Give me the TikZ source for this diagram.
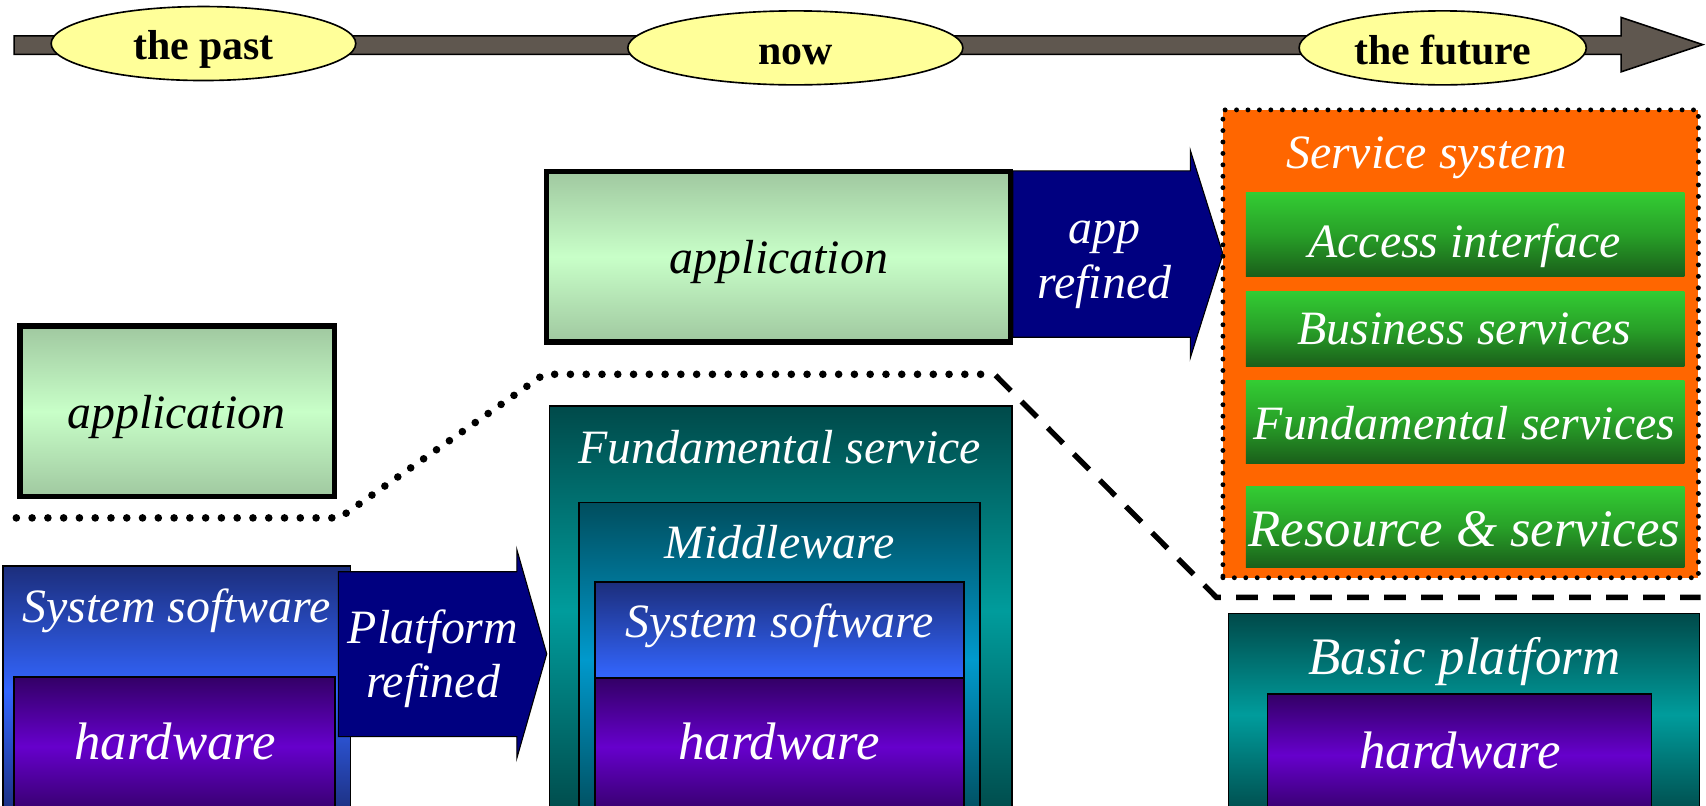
\documentclass[tikz,border=0pt]{standalone}
\usepackage{fontspec}
\setmainfont{Liberation Serif}
\usetikzlibrary{shapes.geometric}

\definecolor{timegray}{HTML}{5F574F}
\definecolor{erayellow}{HTML}{FFFF99}
\definecolor{appdark}{HTML}{A0C8A0}
\definecolor{applight}{HTML}{C8FFC8}
\definecolor{arrownavy}{HTML}{000080}
\definecolor{tealdark}{HTML}{004A4A}
\definecolor{tealmid}{HTML}{009C9C}
\definecolor{middark}{HTML}{004E5E}
\definecolor{midbright}{HTML}{0099CC}
\definecolor{sysdark}{HTML}{1C2E7C}
\definecolor{sysbright}{HTML}{3366FF}
\definecolor{hwdark}{HTML}{330066}
\definecolor{hwbright}{HTML}{6600CC}
\definecolor{svcorange}{HTML}{FF6600}
\definecolor{svcbright}{HTML}{33CC33}
\definecolor{svcmid}{HTML}{28A028}
\definecolor{svcdark}{HTML}{1A5E1A}

\tikzset{
  timebar/.style={fill=timegray,draw=black,line width=1.5pt},
  era/.style={ellipse,draw=black,line width=1.5pt,fill=erayellow,inner sep=0pt,
    minimum width=#1,minimum height=68pt,text height=32pt,text depth=2pt,
    font=\fontsize{38.5}{40}\selectfont\bfseries},
  layer/.style={rectangle,draw=black,line width=1.5pt,inner sep=0pt,outer sep=0pt,anchor=north west},
  appbox/.style={layer,line width=5pt,top color=appdark,bottom color=appdark,middle color=applight},
  tealshade/.style={top color=tealdark,bottom color=tealdark,middle color=tealmid},
  midshade/.style={top color=middark,bottom color=middark,middle color=midbright},
  hwshade/.style={top color=hwdark,bottom color=hwdark,middle color=hwbright},
  blockarrow/.style={fill=arrownavy,draw=black,line width=1pt},
  lbl/.style={text=white,inner sep=0pt,anchor=base,font=\fontsize{44}{50}\selectfont\itshape},
  biglbl/.style={lbl,font=\fontsize{48.5}{54}\selectfont\itshape},
  dotsep/.style={line width=7pt,line cap=round,dash pattern=on 0pt off 14.5pt},
  dashsep/.style={line width=5pt,dash pattern=on 20pt off 14pt}
}

\begin{document}
\begin{tikzpicture}[x=1pt,y=-1pt,>=latex]
  \useasboundingbox (0,0) rectangle (1568,740);
  \clip (0,0) rectangle (1568,740);
  % The time line
  \draw[timebar] (13,33) -- (1490,33) -- (1490,16) -- (1565,41) -- (1490,66) -- (1490,50) -- (13,50) -- cycle;
  \node[era=280pt] (past) at (187,40) {the past};
  \node[era=308pt] (now) at (731,44) {now};
  \node[era=264pt] (future) at (1326,44) {the future};

  % The past
  \node[appbox,minimum width=289pt,minimum height=157pt] (apppast) at (18.5,299.5) {};
  \node[lbl,text=black] (apppastlbl) at (162,393.5) {application};
  \node[layer,top color=sysdark,bottom color=sysdark,middle color=sysbright,
    minimum width=319pt,minimum height=230pt] (syspast) at (3,520) {};
  \node[lbl] (syspastlbl) at (162.5,572) {System software};
  \node[layer,hwshade,minimum width=295pt,minimum height=128pt] (hwpast) at (13,622) {};
  \node[biglbl] (hwpastlbl) at (161,698) {hardware};
  % Platform refined
  \draw[blockarrow] (311,525.5) -- (475,525.5) -- (475,505) -- (502.5,601)
    -- (475,697) -- (475,677) -- (311,677) -- cycle;
  \node[lbl] (platlbl) at (398,591) {Platform};
  \node[lbl] (platreflbl) at (398,641.5) {refined};

  % Now
  \draw[blockarrow] (931,157) -- (1094,157) -- (1094,138) -- (1124,233.5)
    -- (1094,329) -- (1094,310) -- (931,310) -- cycle;
  \node[lbl] (applbl) at (1015,224) {app};
  \node[lbl] (appreflbl) at (1015,274) {refined};
  \node[appbox,minimum width=426pt,minimum height=157pt] (appnow) at (502.5,157.5) {};
  \node[lbl,text=black] (appnowlbl) at (716,251) {application};
  \node[layer,tealshade,minimum width=425pt,minimum height=377pt] (fund) at (505,373) {};
  \node[lbl] (fundlbl) at (716.5,426) {Fundamental service};
  \node[layer,midshade,minimum width=369pt,minimum height=288pt] (middle) at (532,462) {};
  \node[lbl] (middlelbl) at (716.5,513) {Middleware};
  \node[layer,top color=sysdark,bottom color=sysbright,minimum width=339pt,minimum height=88pt] (sysnow) at (547,535) {};
  \node[lbl] (sysnowlbl) at (716.5,586) {System software};
  \node[layer,hwshade,minimum width=339pt,minimum height=127pt] (hwnow) at (547,623) {};
  \node[biglbl] (hwnowlbl) at (716,698) {hardware};

  % The dividing lines
  \draw[dotsep] (15,476) -- (312,476) -- (500,344) -- (908,344);
  \draw[dashsep] (915,345) -- (1118,549) -- (1563,549);

  % The future
  \node[layer,fill=svcorange,line width=4.5pt,line cap=round,dash pattern=on 0pt off 10.5pt,
    minimum width=437pt,minimum height=430pt] (service) at (1124,101) {};
  \node[lbl] (servicelbl) at (1311,155) {Service system};
  \foreach \boxtop/\boxh/\base/\fsz/\txt [count=\i] in {177/77/237/44/Access interface,
      267.5/69.5/317/44/Business services, 350/76/403.5/44/Fundamental services,
      447.5/74.5/502.5/48.5/Resource \& services}
  {
    \node[layer,draw=none,top color=svcbright,bottom color=svcdark,middle color=svcmid,
      minimum width=403pt,minimum height=\boxh pt] (svc\i) at (1145,\boxtop) {};
    \node[lbl,font=\fontsize{\fsz}{\fsz}\selectfont\itshape] (svclbl\i) at (1346,\base) {\txt};
  }
  \node[layer,tealshade,minimum width=433pt,minimum height=186pt] (basic) at (1129,564) {};
  \node[biglbl] (basiclbl) at (1346,620) {Basic platform};
  \node[layer,hwshade,minimum width=353pt,minimum height=112pt] (hwfut) at (1165,638) {};
  \node[biglbl] (hwfutlbl) at (1342,706) {hardware};
\end{tikzpicture}
\end{document}
